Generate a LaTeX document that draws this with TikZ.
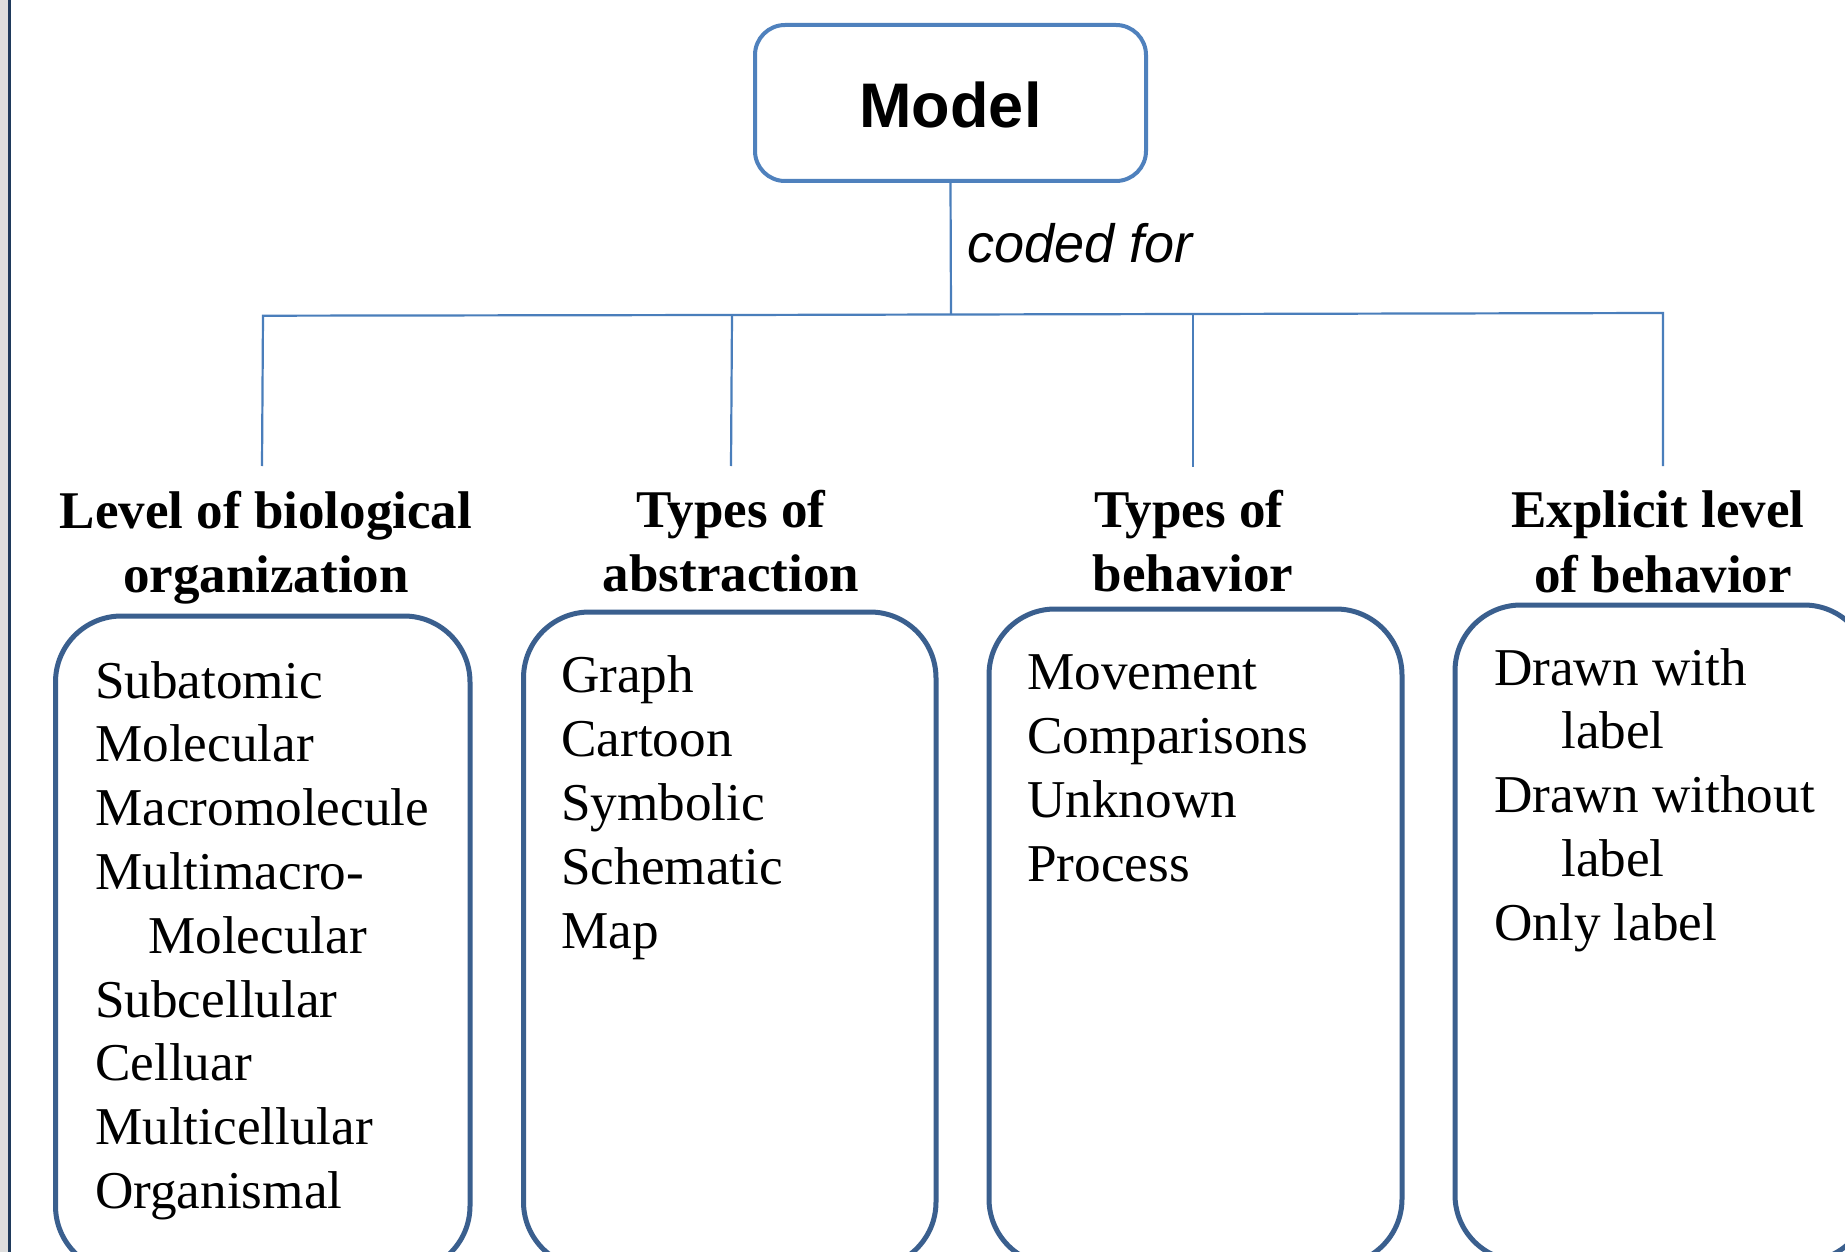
\documentclass[tikz,border=0pt]{standalone}
\usepackage{fontspec}
\setmainfont{Liberation Serif}
\newfontfamily\arialfont{Liberation Sans}
\definecolor{boxblue}{HTML}{3A5F8E}
\definecolor{lineblue}{HTML}{4A7EBB}
\definecolor{modelblue}{HTML}{4F81BD}
\definecolor{edgegray}{HTML}{DEDEDE}
\definecolor{edgenavy}{HTML}{1F3A5C}
\tikzset{
  listitem/.style={anchor=base west, inner sep=0pt, font=\fontsize{53.2}{64}\selectfont},
  headline/.style={anchor=base, inner sep=0pt, font=\fontsize{53}{64}\selectfont\bfseries},
  listbox/.style={draw=boxblue, line width=5pt, rounded corners=66pt},
  connector/.style={draw=lineblue, line width=2.2pt},
  modelbox/.style={draw=modelblue, line width=4pt, rounded corners=30pt, minimum width=391pt, minimum height=156pt, inner sep=0pt, text height=50pt, text depth=0pt, font=\arialfont\bfseries\fontsize{63}{70}\selectfont}
}
\begin{document}
\begin{tikzpicture}[x=1pt,y=-1pt]
\clip (0,0) rectangle (1845,1252);
\fill[white] (0,0) rectangle (1845,1252);
% left page edge
\fill[edgegray] (0,0) rectangle (8,1252);
\draw[edgenavy, line width=3pt] (9.5,0) -- (9.5,1252);

% top node
\node[modelbox] (model) at (950.5,103) {Model};
\node[anchor=base west, inner sep=0pt, font=\arialfont\itshape\fontsize{54}{60}\selectfont] (codedfor) at (967,262) {coded for};

% bus junctions
\coordinate (jm) at (951,314.5);
\coordinate (j1) at (263,315.7);
\coordinate (j2) at (732,315);
\coordinate (j3) at (1193,314);
\coordinate (j4) at (1663,313);
\coordinate (e1) at (262,466);
\coordinate (e2) at (731,466);
\coordinate (e3) at (1193,467);
\coordinate (e4) at (1663,466);

\draw[connector] (model.south) -- (jm);
\draw[connector, line join=miter] (e1) -- (j1) -- (j2) -- (jm) -- (j3) -- (j4) -- (e4);
\draw[connector] (j2) -- (e2);
\draw[connector] (j3) -- (e3);

% headings
\node[headline] (h1a) at (266,528) {Level of biological};
\node[headline] (h1b) at (266,592) {organization};
\node[headline] (h2a) at (731,527) {Types of};
\node[headline] (h2b) at (731,591) {abstraction};
\node[headline] (h3a) at (1189,527) {Types of};
\node[headline] (h3b) at (1193,591) {behavior};
\node[headline] (h4a) at (1658,527) {Explicit level};
\node[headline] (h4b) at (1663,592) {of behavior};

% list boxes
\draw[listbox] (55.5,616) rectangle (470,1272);
\draw[listbox] (523.5,612) rectangle (936,1268);
\draw[listbox] (989,609) rectangle (1402,1265);
\draw[listbox] (1455,605) rectangle (1870,1261);

% box 1 items
\foreach \t [count=\i from 0] in {Subatomic, Molecular, Macromolecule, Multimacro-, \hspace{53pt}Molecular, Subcellular, Celluar, Multicellular, Organismal}
  \node[listitem] (a\i) at (95,698+63.8*\i) {\t};
% box 2 items
\foreach \t [count=\i from 0] in {Graph, Cartoon, Symbolic, Schematic, Map}
  \node[listitem] (b\i) at (561,692+64*\i) {\t};
% box 3 items
\foreach \t [count=\i from 0] in {Movement, Comparisons, Unknown, Process}
  \node[listitem] (c\i) at (1027,689+64*\i) {\t};
% box 4 items
\foreach \t [count=\i from 0] in {Drawn with, \hspace{67pt}label, Drawn without, \hspace{67pt}label, Only label}
  \node[listitem] (d\i) at (1494,685+63.8*\i) {\t};
\end{tikzpicture}
\end{document}
